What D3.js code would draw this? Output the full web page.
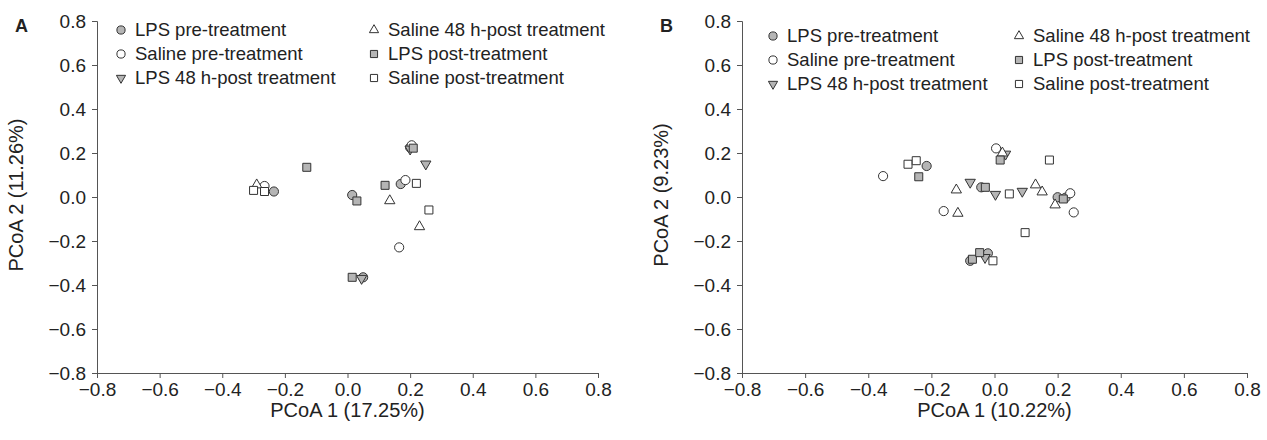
<!DOCTYPE html>
<html>
<head>
<meta charset="utf-8">
<script src="https://cdn.jsdelivr.net/npm/d3@7"></script>
<style>
  body { margin: 0; background: #fff; }
  svg text { font-family: "Liberation Sans", Arial, sans-serif; fill: #222; }
</style>
</head>
<body>
<svg id="chart" width="1267" height="440"></svg>
<script>
// groups, in legend order
var groups = ['LPS pre-treatment', 'Saline pre-treatment', 'LPS 48 h-post treatment',
              'Saline 48 h-post treatment', 'LPS post-treatment', 'Saline post-treatment'];
var ticks = [-0.8, -0.6, -0.4, -0.2, 0.0, 0.2, 0.4, 0.6, 0.8];

// panel A  (PCoA 1 / PCoA 2)
var aLpsPre    = [[-0.235, 0.025], [0.015, 0.009], [0.17, 0.059], [0.2, 0.225], [0.05, -0.365]];
var aSalPre    = [[-0.265, 0.05], [0.185, 0.077], [0.205, 0.235], [0.165, -0.229]];
var aLps48     = [[0.25, 0.15], [0.2, 0.218], [0.045, -0.37]];
var aSal48     = [[-0.29, 0.055], [0.135, -0.017], [0.23, -0.135]];
var aLpsPost   = [[-0.13, 0.135], [0.12, 0.053], [0.03, -0.018], [0.21, 0.222], [0.015, -0.365]];
var aSalPost   = [[-0.3, 0.03], [-0.265, 0.025], [0.22, 0.062], [0.26, -0.059]];

// panel B
var bLpsPre    = [[-0.215, 0.141], [-0.042, 0.044], [0.2, -0.001], [0.225, -0.003], [-0.077, -0.29], [-0.021, -0.256]];
var bSalPre    = [[-0.353, 0.095], [0.005, 0.221], [0.24, 0.017], [0.251, -0.07], [-0.161, -0.064]];
var bLps48     = [[0.035, 0.195], [-0.077, 0.067], [0.003, 0.012], [0.088, 0.026], [-0.03, -0.275]];
var bSal48     = [[0.025, 0.2], [-0.121, 0.032], [0.13, 0.055], [0.151, 0.023], [0.192, -0.036], [-0.116, -0.074]];
var bLpsPost   = [[-0.24, 0.092], [0.018, 0.168], [-0.029, 0.044], [0.218, -0.009], [-0.07, -0.283], [-0.047, -0.253]];
var bSalPost   = [[-0.274, 0.149], [-0.248, 0.165], [0.174, 0.168], [0.047, 0.014], [0.097, -0.162], [-0.005, -0.29]];

var GRAY = '#b5b5b5', EDGE = '#333';
var styles = [
  {type: d3.symbolCircle, size: 66, fill: GRAY, rot: 0},
  {type: d3.symbolCircle, size: 66, fill: '#fff', rot: 0},
  {type: d3.symbolTriangle, size: 46, fill: GRAY, rot: 180},
  {type: d3.symbolTriangle, size: 46, fill: '#fff', rot: 0},
  {type: d3.symbolSquare, size: 64, fill: GRAY, rot: 0},
  {type: d3.symbolSquare, size: 64, fill: '#fff', rot: 0}
];

var svg = d3.select('#chart');

function drawPanel(opt) {
  var x = d3.scaleLinear().domain([-0.8, 0.8]).range([opt.left, opt.right]);
  var y = d3.scaleLinear().domain([-0.8, 0.8]).range([373, 21]);
  var g = svg.append('g');
  var fmt = d3.format('.1f');

  var xAxis = g.append('g').attr('transform', 'translate(0,373)')
    .call(d3.axisBottom(x).tickValues(ticks).tickFormat(fmt).tickSize(5).tickPadding(3));
  var yAxis = g.append('g').attr('transform', 'translate(' + opt.left + ',0)')
    .call(d3.axisLeft(y).tickValues(ticks).tickFormat(fmt).tickSize(5).tickPadding(6));
  [xAxis, yAxis].forEach(function(ax){
    ax.select('.domain').attr('stroke', '#555');
    ax.selectAll('.tick line').attr('stroke', '#555');
    ax.selectAll('text').style('font-size', '19px').attr('fill', '#222');
  });
  xAxis.selectAll('text').attr('dy', '0.8em');

  g.append('text').attr('x', (opt.left + opt.right) / 2).attr('y', 417)
    .attr('text-anchor', 'middle').style('font-size', '20px').text(opt.xTitle);
  g.append('text').attr('transform', 'translate(' + (opt.left - 74) + ',' + 195 + ') rotate(-90)')
    .attr('text-anchor', 'middle').style('font-size', '20px').text(opt.yTitle);
  g.append('text').attr('x', opt.left - 82).attr('y', 32)
    .style('font-size', '18px').style('font-weight', 'bold').text(opt.letter);

  // points
  opt.series.forEach(function(pts, i){
    var st = styles[i];
    g.append('g').selectAll('path').data(pts).enter().append('path')
      .attr('d', d3.symbol().type(st.type).size(st.size))
      .attr('transform', function(d){ return 'translate(' + x(d[0]) + ',' + y(d[1]) + ') rotate(' + st.rot + ')'; })
      .attr('fill', st.fill).attr('stroke', EDGE).attr('stroke-width', 1);
  });

  // legend, two columns
  var leg = g.append('g');
  groups.forEach(function(name, i){
    var st = styles[i];
    var col = Math.floor(i / 3), row = i % 3;
    var lx = opt.legX[col], ly = opt.legY + row * 24;
    leg.append('path')
      .attr('d', d3.symbol().type(st.type).size(st.size * 0.8))
      .attr('transform', 'translate(' + lx + ',' + ly + ') rotate(' + st.rot + ')')
      .attr('fill', st.fill).attr('stroke', EDGE).attr('stroke-width', 1);
    leg.append('text').attr('x', lx + 14).attr('y', ly).attr('dy', '0.35em')
      .style('font-size', '18.5px').text(name);
  });
}

drawPanel({
  left: 97, right: 598, letter: 'A',
  xTitle: 'PCoA 1 (17.25%)', yTitle: 'PCoA 2 (11.26%)',
  series: [aLpsPre, aSalPre, aLps48, aSal48, aLpsPost, aSalPost],
  legX: [121, 374], legY: 30
});
drawPanel({
  left: 742, right: 1247, letter: 'B',
  xTitle: 'PCoA 1 (10.22%)', yTitle: 'PCoA 2 (9.23%)',
  series: [bLpsPre, bSalPre, bLps48, bSal48, bLpsPost, bSalPost],
  legX: [773, 1019], legY: 36
});
</script>
</body>
</html>
